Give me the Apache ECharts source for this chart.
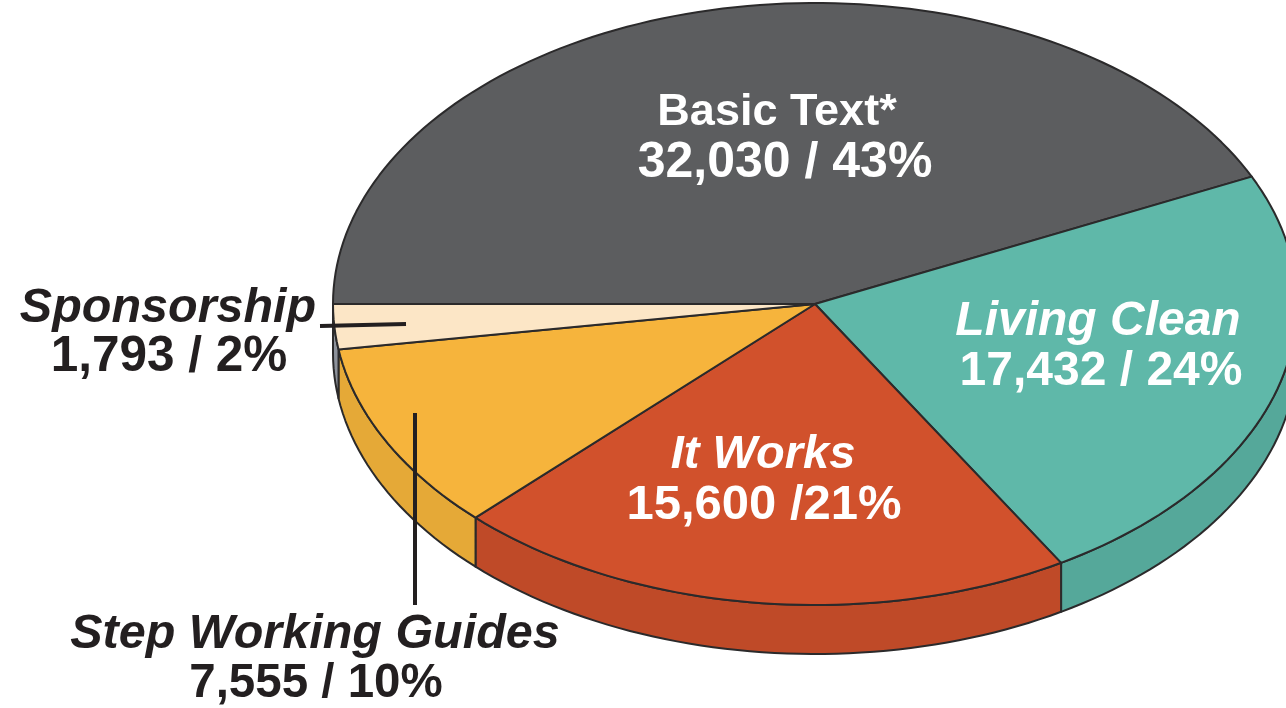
<!DOCTYPE html>
<html>
<head>
<meta charset="utf-8">
<title>Literature distribution</title>
<style>
  html, body { margin: 0; padding: 0; background: #fff; }
  #chart { width: 1286px; height: 708px; }
</style>
<script src="https://cdn.jsdelivr.net/npm/echarts@6/dist/echarts.min.js"></script>
</head>
<body>
<div id="chart"></div>
<script>
// values, in drawing order (clockwise from the left edge)
const names = ['Basic Text*', 'Living Clean', 'It Works', 'Step Working Guides', 'Sponsorship'];
const values = [32030, 17432, 15600, 7555, 1793];
const valueLabels = ['32,030 / 43%', '17,432 / 24%', '15,600 /21%', '7,555 / 10%', '1,793 / 2%'];
const topColors = ['#5c5d5f', '#5fb8a9', '#d1512c', '#f6b43c', '#fce6c6'];
const wallColors = ['#4e4f51', '#55a89a', '#bf4a28', '#e5a937', '#8d929b'];

// the tilted pie
const cx = 815, cy = 304, rx = 482, ry = 301, depth = 49;
const startDeg = 180;
const total = values.reduce((a, b) => a + b, 0);
const lineColor = '#2b2a2b';

function rim(deg, offset) {
  const t = deg * Math.PI / 180;
  return [cx + rx * Math.cos(t), cy + offset + ry * Math.sin(t)];
}

function arc(from, to, offset) {
  const pts = [];
  const n = Math.max(2, Math.ceil((to - from) / 1.5));
  for (let i = 0; i <= n; i++) {
    pts.push(rim(from + (to - from) * i / n, offset));
  }
  return pts;
}

function renderSlice(params, api) {
  const idx = params.dataIndex;
  let before = 0;
  for (let i = 0; i < idx; i++) before += values[i];
  const a = startDeg + before / total * 360;
  const b = a + api.value(0) / total * 360;
  const children = [];

  // side wall only shows on the front half of the rim
  [0, 360].forEach(function (turn) {
    const lo = Math.max(a, turn), hi = Math.min(b, turn + 180);
    if (hi > lo) {
      children.push({
        type: 'polygon',
        shape: { points: arc(lo, hi, 0).concat(arc(lo, hi, depth).reverse()) },
        style: { fill: wallColors[idx], stroke: lineColor, lineWidth: 2, lineJoin: 'round' }
      });
    }
  });

  children.push({
    type: 'polygon',
    shape: { points: [[cx, cy]].concat(arc(a, b, 0)) },
    style: { fill: topColors[idx], stroke: lineColor, lineWidth: 2, lineJoin: 'round' }
  });
  return { type: 'group', children: children };
}

// label spots, same order as names
const labelSpots = [
  { x: 777, y: 113, vx: 785, vy: 163, fill: '#fff', italic: false, nameSize: 45, valueSize: 50 },
  { x: 1098, y: 322, vx: 1101, vy: 372, fill: '#fff', italic: true, nameSize: 48, valueSize: 48 },
  { x: 763, y: 455, vx: 764, vy: 505, fill: '#fff', italic: true, nameSize: 47, valueSize: 49 },
  { x: 315, y: 635, vx: 316, vy: 684, fill: '#231f20', italic: true, nameSize: 48.5, valueSize: 47.5 },
  { x: 168, y: 309, vx: 169, vy: 357, fill: '#231f20', italic: true, nameSize: 48.5, valueSize: 49.5 }
];

function textEl(str, x, y, fill, italic, size) {
  return {
    type: 'text',
    z: 10,
    style: {
      x: x, y: y, text: str,
      fill: fill,
      font: (italic ? 'italic ' : '') + 'bold ' + size + 'px "Liberation Sans", Arial, sans-serif',
      textAlign: 'center', textVerticalAlign: 'middle'
    }
  };
}

const graphics = [];
names.forEach(function (name, i) {
  const spot = labelSpots[i];
  graphics.push(textEl(name, spot.x, spot.y, spot.fill, spot.italic, spot.nameSize));
  graphics.push(textEl(valueLabels[i], spot.vx, spot.vy, spot.fill, false, spot.valueSize));
});

// leader lines
[[[320, 326], [406, 324]], [[415, 413], [415, 605]]].forEach(function (l) {
  graphics.push({
    type: 'line', z: 10,
    shape: { x1: l[0][0], y1: l[0][1], x2: l[1][0], y2: l[1][1] },
    style: { stroke: '#231f20', lineWidth: 4 }
  });
});

const myChart = echarts.init(document.getElementById('chart'));
myChart.setOption({
  animation: false,
  backgroundColor: '#fff',
  graphic: graphics,
  series: [{
    type: 'custom',
    coordinateSystem: 'none',
    renderItem: renderSlice,
    data: values.map(function (v) { return [v]; }),
    silent: true
  }]
});
</script>
</body>
</html>
